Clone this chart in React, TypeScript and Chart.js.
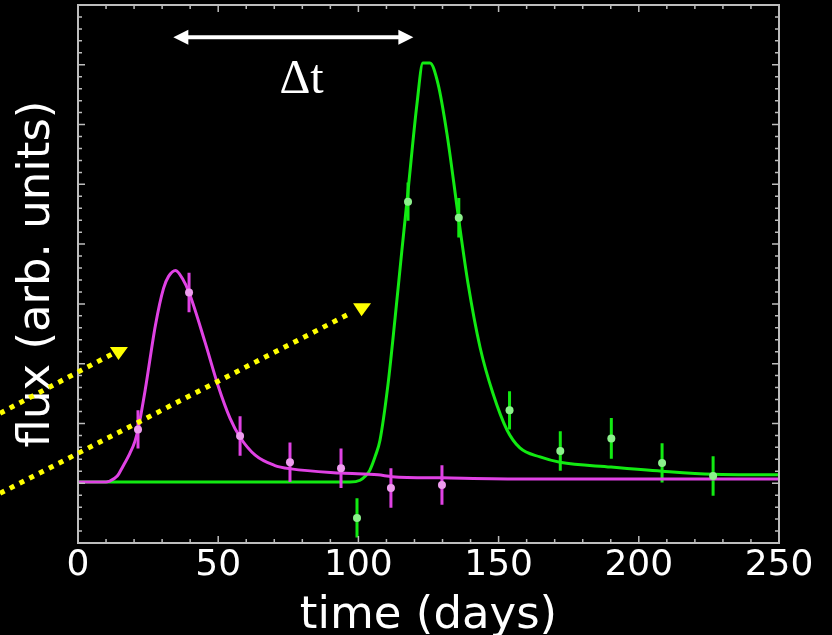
import React, { useEffect, useRef } from "react";
import { Chart, registerables } from "chart.js";

Chart.register(...registerables);

// ---- model light curves (time in days, flux in arbitrary units) ----
const magentaCurveT = [0, 10, 11, 14, 16, 18.5, 20.3, 21.5, 24, 27.6, 30.5, 32.3, 34.8, 37.3, 39.6, 45.3, 49.9, 54.2, 57.8, 63.2, 70, 76, 94, 107, 112, 130, 160, 250];
const magentaCurveV = [1.02, 1.02, 1.03, 1.12, 1.28, 1.5, 1.7, 1.92, 2.57, 3.64, 4.26, 4.46, 4.56, 4.42, 4.19, 3.36, 2.64, 2.09, 1.77, 1.47, 1.3, 1.24, 1.17, 1.14, 1.11, 1.09, 1.07, 1.07];

const greenCurveT = [0, 93, 97, 100.6, 102.5, 104.1, 106, 107.7, 110.6, 113.1, 115.5, 117.7, 120.9, 123, 125.5, 128.4, 131.6, 135.5, 139.1, 143.4, 148, 153, 157.6, 164.8, 171.9, 190.1, 208.3, 226.5, 250];
const greenCurveV = [1.02, 1.02, 1.02, 1.05, 1.12, 1.22, 1.45, 1.72, 2.67, 3.77, 4.89, 5.89, 7.35, 8.03, 8.03, 7.68, 6.84, 5.51, 4.34, 3.27, 2.5, 1.89, 1.59, 1.44, 1.35, 1.27, 1.2, 1.15, 1.14];

// ---- observed fluxes with 1-sigma errors ----
const magentaObsT = [21.4, 39.6, 57.8, 75.6, 93.8, 111.6, 129.8];
const magentaObsV = [1.9, 4.19, 1.79, 1.35, 1.25, 0.92, 0.97];
const magentaObsErr = [0.32, 0.33, 0.33, 0.33, 0.33, 0.33, 0.33];

const greenObsT = [99.5, 117.7, 135.8, 153.9, 172.0, 190.2, 208.3, 226.5];
const greenObsV = [0.42, 5.71, 5.44, 2.22, 1.54, 1.75, 1.34, 1.12];
const greenObsErr = [0.33, 0.32, 0.33, 0.32, 0.33, 0.34, 0.33, 0.33];

// ---- axis ----
const timeTicks = [0, 50, 100, 150, 200, 250];

// ---- annotations (data units) ----
const delayArrowT = [34.0, 119.6];
const delayArrowV = 8.46;
const delayLabel = "Δt";
const delayLabelT = 79.7;
const delayLabelV = 7.53;

// incoming light rays: [startT, startV, endT, endV, headT, headV]
const rayLower = [-27.8, 0.83, 97.0, 3.84, 101.3, 4.01];
const rayUpper = [-27.8, 2.17, 12.1, 3.16, 14.6, 3.28];

const MAGENTA = "#e042e4";
const MAGENTA_PT = "#ee9cee";
const GREEN = "#12ea12";
const GREEN_PT = "#8cf08c";
const FRAME = "#bdbdbd";
const YELLOW = "#ffff00";

const pairs = (t: number[], v: number[]) => t.map((x, i) => ({ x, y: v[i] }));
const errSegments = (t: number[], v: number[], e: number[]) =>
  t.flatMap((x, i) => [
    { x, y: v[i] - e[i] },
    { x, y: v[i] + e[i] },
    { x, y: null as number | null },
  ]);

const decorPlugin = {
  id: "decor",
  beforeDraw(chart: any) {
    const { ctx, width, height } = chart;
    ctx.save();
    ctx.fillStyle = "#000";
    ctx.fillRect(0, 0, width, height);
    ctx.restore();
  },
  afterDatasetsDraw(chart: any) {
    const { ctx, chartArea: a, scales } = chart;
    const xs = scales.x;
    const ys = scales.y;
    const px = (t: number) => xs.getPixelForValue(t);
    const py = (v: number) => ys.getPixelForValue(v);

    ctx.save();
    // frame
    ctx.strokeStyle = FRAME;
    ctx.lineWidth = 2;
    ctx.strokeRect(a.left, a.top, a.right - a.left, a.bottom - a.top);

    // inward ticks on all four sides
    ctx.lineWidth = 1.5;
    ctx.beginPath();
    for (let i = 0; i <= 25; i++) {
      const t = i * 10;
      const x = px(t);
      const len = i % 5 === 0 ? 7 : 4;
      ctx.moveTo(x, a.bottom);
      ctx.lineTo(x, a.bottom - len);
      ctx.moveTo(x, a.top);
      ctx.lineTo(x, a.top + len);
    }
    for (let i = 0; i <= 45; i++) {
      const y = py(i * 0.2);
      const len = i % 5 === 0 ? 7 : 4;
      ctx.moveTo(a.left, y);
      ctx.lineTo(a.left + len, y);
      ctx.moveTo(a.right, y);
      ctx.lineTo(a.right - len, y);
    }
    ctx.stroke();

    // time-delay double arrow
    const x0 = px(delayArrowT[0]);
    const x1 = px(delayArrowT[1]);
    const ya = py(delayArrowV);
    const head = 15;
    const hw = 7.5;
    ctx.strokeStyle = "#fff";
    ctx.fillStyle = "#fff";
    ctx.lineWidth = 4;
    ctx.beginPath();
    ctx.moveTo(x0 + head - 2, ya);
    ctx.lineTo(x1 - head + 2, ya);
    ctx.stroke();
    ctx.beginPath();
    ctx.moveTo(x0, ya);
    ctx.lineTo(x0 + head, ya - hw);
    ctx.lineTo(x0 + head, ya + hw);
    ctx.closePath();
    ctx.moveTo(x1, ya);
    ctx.lineTo(x1 - head, ya - hw);
    ctx.lineTo(x1 - head, ya + hw);
    ctx.closePath();
    ctx.fill();

    ctx.font = '48px "Liberation Serif", serif';
    ctx.textAlign = "center";
    ctx.textBaseline = "alphabetic";
    ctx.fillText(delayLabel, px(delayLabelT), py(delayLabelV));

    // dotted light rays with triangular heads
    const drawRay = (r: number[]) => {
      ctx.strokeStyle = YELLOW;
      ctx.fillStyle = YELLOW;
      ctx.lineWidth = 5;
      ctx.lineCap = "butt";
      ctx.setLineDash([5, 6]);
      ctx.beginPath();
      ctx.moveTo(px(r[0]), py(r[1]));
      ctx.lineTo(px(r[2]), py(r[3]));
      ctx.stroke();
      ctx.setLineDash([]);
      const hx = px(r[4]);
      const hy = py(r[5]);
      ctx.beginPath();
      ctx.moveTo(hx - 9, hy);
      ctx.lineTo(hx + 9, hy);
      ctx.lineTo(hx - 0.5, hy + 13);
      ctx.closePath();
      ctx.fill();
    };
    drawRay(rayUpper);
    drawRay(rayLower);

    ctx.restore();
  },
};

export default function App() {
  const canvasRef = useRef<HTMLCanvasElement | null>(null);

  useEffect(() => {
    const canvas = canvasRef.current;
    if (!canvas) return;

    const chart = new Chart(canvas, {
      type: "line",
      data: {
        datasets: [
          {
            label: "magenta obs",
            data: pairs(magentaObsT, magentaObsV),
            showLine: false,
            pointRadius: 4,
            pointBorderWidth: 0,
            pointBackgroundColor: MAGENTA_PT,
          },
          {
            label: "green obs",
            data: pairs(greenObsT, greenObsV),
            showLine: false,
            pointRadius: 4,
            pointBorderWidth: 0,
            pointBackgroundColor: GREEN_PT,
          },
          {
            label: "magenta err",
            data: errSegments(magentaObsT, magentaObsV, magentaObsErr),
            borderColor: MAGENTA,
            borderWidth: 3,
            pointRadius: 0,
            spanGaps: false,
          },
          {
            label: "magenta model",
            data: pairs(magentaCurveT, magentaCurveV),
            borderColor: MAGENTA,
            borderWidth: 3,
            pointRadius: 0,
            cubicInterpolationMode: "monotone",
          },
          {
            label: "green err",
            data: errSegments(greenObsT, greenObsV, greenObsErr),
            borderColor: GREEN,
            borderWidth: 3,
            pointRadius: 0,
            spanGaps: false,
          },
          {
            label: "green model",
            data: pairs(greenCurveT, greenCurveV),
            borderColor: GREEN,
            borderWidth: 3,
            pointRadius: 0,
            cubicInterpolationMode: "monotone",
          },
        ] as any,
      },
      options: {
        responsive: false,
        maintainAspectRatio: false,
        animation: false,
        layout: { padding: { left: 0, right: 53, top: 5, bottom: 0 } },
        plugins: { legend: { display: false }, tooltip: { enabled: false } },
        scales: {
          x: {
            type: "linear",
            min: 0,
            max: 250,
            grid: { display: false, drawTicks: false },
            border: { display: false },
            afterBuildTicks: (scale: any) => {
              scale.ticks = timeTicks.map((value) => ({ value }));
            },
            afterFit: (scale: any) => {
              scale.height = 92;
            },
            ticks: {
              color: "#fff",
              padding: 1,
              maxRotation: 0,
              autoSkip: false,
              font: { family: "DejaVu Sans", size: 36, lineHeight: 1.2 },
            },
            title: {
              display: true,
              text: "time (days)",
              color: "#fff",
              font: { family: "DejaVu Sans", size: 45, lineHeight: 0.85 },
              padding: { top: 0, bottom: 0 },
            },
          },
          y: {
            type: "linear",
            min: 0,
            max: 9,
            grid: { display: false, drawTicks: false },
            border: { display: false },
            ticks: { display: false },
            afterFit: (scale: any) => {
              scale.width = 78;
            },
            title: {
              display: true,
              text: "flux (arb. units)",
              color: "#fff",
              font: { family: "DejaVu Sans", size: 45, lineHeight: 1.05 },
              padding: { top: 14, bottom: 0 },
            },
          },
        },
      },
      plugins: [decorPlugin],
    });

    return () => chart.destroy();
  }, []);

  return (
    <div
      style={{
        position: "fixed",
        left: 0,
        top: 0,
        width: 832,
        height: 635,
        background: "#000",
        overflow: "hidden",
      }}
    >
      <canvas ref={canvasRef} width={832} height={635} style={{ display: "block" }} />
    </div>
  );
}
